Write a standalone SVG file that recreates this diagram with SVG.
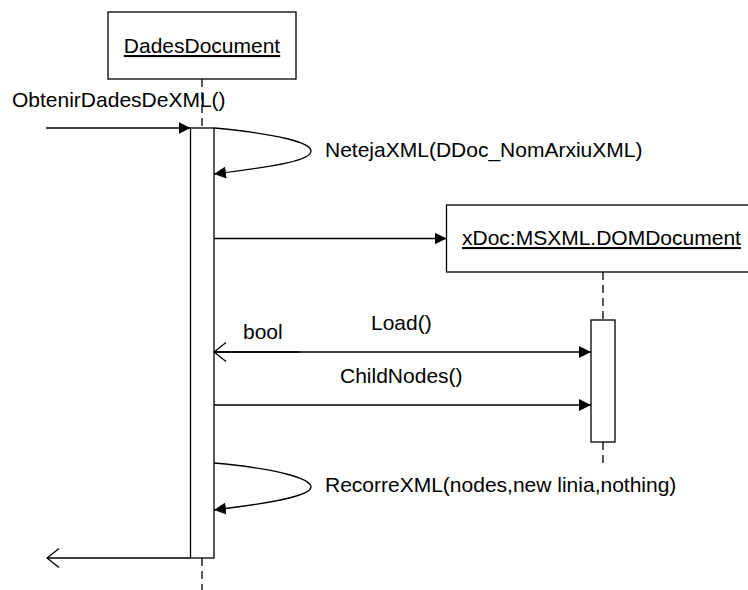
<svg xmlns="http://www.w3.org/2000/svg" width="748" height="590" viewBox="0 0 748 590">
<defs>
<style>
text{font-family:"Liberation Sans",Arial,sans-serif;font-size:21px;fill:#000}
.box{fill:#fff;stroke:#000;stroke-width:1.3}
.life{stroke:#000;stroke-width:1.3;stroke-dasharray:8,5;fill:none}
.msg{stroke:#000;stroke-width:1.3;fill:none}
.call{marker-end:url(#filled)}
.ret{marker-end:url(#open)}
</style>
<marker id="filled" viewBox="0 0 12 12" refX="12" refY="6" markerWidth="12" markerHeight="12" markerUnits="userSpaceOnUse" orient="auto">
<path d="M0,0 L12,6 L0,12 Z" fill="#000"/>
</marker>
<marker id="open" viewBox="0 0 14 22" refX="13" refY="11" markerWidth="14" markerHeight="22" markerUnits="userSpaceOnUse" orient="auto">
<path d="M1,1.5 L13,11 L1,20.5" fill="none" stroke="#000" stroke-width="1.3"/>
</marker>
</defs>
<rect width="748" height="590" fill="#fff"/>
<g id="DadesDocument">
<rect class="box" x="108" y="12" width="188" height="67"/>
<text x="202" y="53" text-anchor="middle" text-decoration="underline">DadesDocument</text>
<line class="life" x1="202" y1="79" x2="202" y2="128"/>
<line class="life" x1="202" y1="558" x2="202" y2="590"/>
<rect class="box" x="190.5" y="128" width="23.5" height="430"/>
</g>
<g id="xDoc">
<rect class="box" x="446.5" y="205" width="320" height="67"/>
<text x="462" y="245" text-decoration="underline">xDoc:MSXML.DOMDocument</text>
<line class="life" x1="603" y1="272" x2="603" y2="320"/>
<line class="life" x1="603" y1="442" x2="603" y2="466"/>
<rect class="box" x="591" y="320" width="24" height="122"/>
</g>
<g id="connectors">
<line class="msg call" x1="46" y1="128" x2="190.5" y2="128"/>
<text x="12" y="107">ObtenirDadesDeXML()</text>
<path class="msg call" d="M214,128 C280,134 311,143 311,151 C311,160 280,166 214,174"/>
<text x="325" y="157">NetejaXML(DDoc_NomArxiuXML)</text>
<line class="msg call" x1="214" y1="238.5" x2="446.5" y2="238.5"/>
<line class="msg call" x1="214" y1="352" x2="591" y2="352"/>
<line class="msg ret" x1="300" y1="352" x2="214" y2="352"/>
<text x="371" y="330">Load()</text>
<text x="243" y="339">bool</text>
<line class="msg call" x1="214" y1="405" x2="591" y2="405"/>
<text x="340" y="383">ChildNodes()</text>
<path class="msg call" d="M214,463 C280,469 311,479 311,487 C311,495 280,502 214,510"/>
<text x="325" y="492">RecorreXML(nodes,new linia,nothing)</text>
<line class="msg ret" x1="190.5" y1="558" x2="47" y2="558"/>
</g>
</svg>
